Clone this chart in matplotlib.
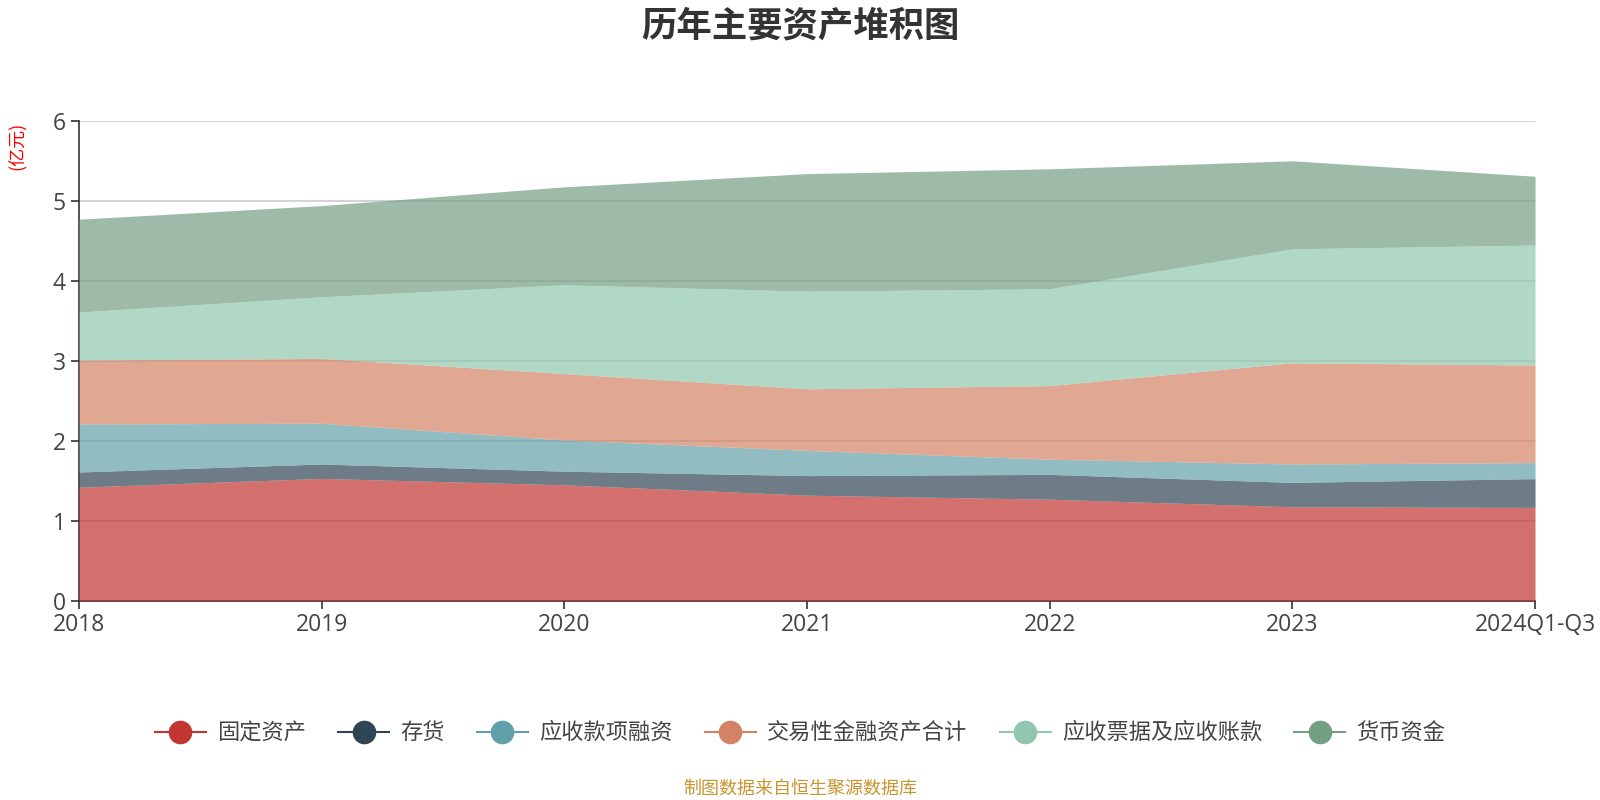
import matplotlib
matplotlib.use("Agg")
import matplotlib.pyplot as plt
from matplotlib.lines import Line2D
import numpy as np

plt.rcParams['font.family'] = ['Noto Sans CJK SC', 'DejaVu Sans']

years = ['2018', '2019', '2020', '2021', '2022', '2023', '2024Q1-Q3']
names = ['固定资产', '存货', '应收款项融资', '交易性金融资产合计', '应收票据及应收账款', '货币资金']
gdzc = [1.42, 1.53, 1.45, 1.32, 1.27, 1.175, 1.167]      # 固定资产
ch = [0.19, 0.18, 0.17, 0.245, 0.31, 0.305, 0.36]         # 存货
yskxrz = [0.60, 0.51, 0.39, 0.315, 0.19, 0.23, 0.20]     # 应收款项融资
jyxjr = [0.80, 0.81, 0.83, 0.77, 0.92, 1.265, 1.22]      # 交易性金融资产合计
yspj = [0.60, 0.77, 1.11, 1.22, 1.21, 1.425, 1.50]       # 应收票据及应收账款
hbzj = [1.16, 1.14, 1.225, 1.47, 1.50, 1.10, 0.86]       # 货币资金
colors = ['#c23531', '#2f4554', '#61a0a8', '#d48265', '#91c7ae', '#749f83']

fig = plt.figure(figsize=(16, 8), dpi=100)
ax = fig.add_axes([0.0494, 0.249, 0.91, 0.6])

x = np.arange(len(years))
series = [gdzc, ch, yskxrz, jyxjr, yspj, hbzj]
base = np.zeros(len(years))
for vals, c in zip(series, colors):
    top = base + np.array(vals)
    ax.fill_between(x, base, top, color=c, alpha=0.7, lw=0, zorder=2)
    base = top

ax.set_xlim(0, len(years) - 1)
ax.set_ylim(0, 6)
ax.set_yticks(range(7))
ax.set_xticks(x)
ax.set_xticklabels(years)
ax.grid(axis='y', color='#cccccc', lw=1.2, zorder=1)
ax.set_axisbelow(True)
for s in ['top', 'right']:
    ax.spines[s].set_visible(False)
for s in ['left', 'bottom']:
    ax.spines[s].set_color('#333333')
    ax.spines[s].set_linewidth(1.2)
    ax.spines[s].set_zorder(1)
ax.tick_params(axis='both', colors='#333333', labelsize=16.5, length=6, width=1.2)
ax.tick_params(axis='x', pad=3)
for lab in ax.get_xticklabels() + ax.get_yticklabels():
    lab.set_color('#444444')
    lab.set_family(['Open Sans', 'DejaVu Sans'])

fig.text(0.5, 0.968, '历年主要资产堆积图', ha='center', va='center', fontsize=25.5,
         fontweight='bold', color='#333333')
fig.text(0.0106, 0.818, '(亿元)', ha='center', va='center', rotation=90,
         fontsize=13, color='#ff0000')

handles = [Line2D([0], [0], color=c, lw=1.5, marker='o', markersize=16,
                  markerfacecolor=c, markeredgecolor=c) for c in colors]
fig.legend(handles, names, loc='center', bbox_to_anchor=(0.5, 0.084), ncol=6,
           frameon=False, fontsize=16, handlelength=2.3, columnspacing=1.45,
           handletextpad=0.5, labelcolor='#444444')

fig.text(0.5, 0.014, '制图数据来自恒生聚源数据库', ha='center', va='center',
         fontsize=13, color='#c9952d')

fig.savefig('out.png', dpi=100)
